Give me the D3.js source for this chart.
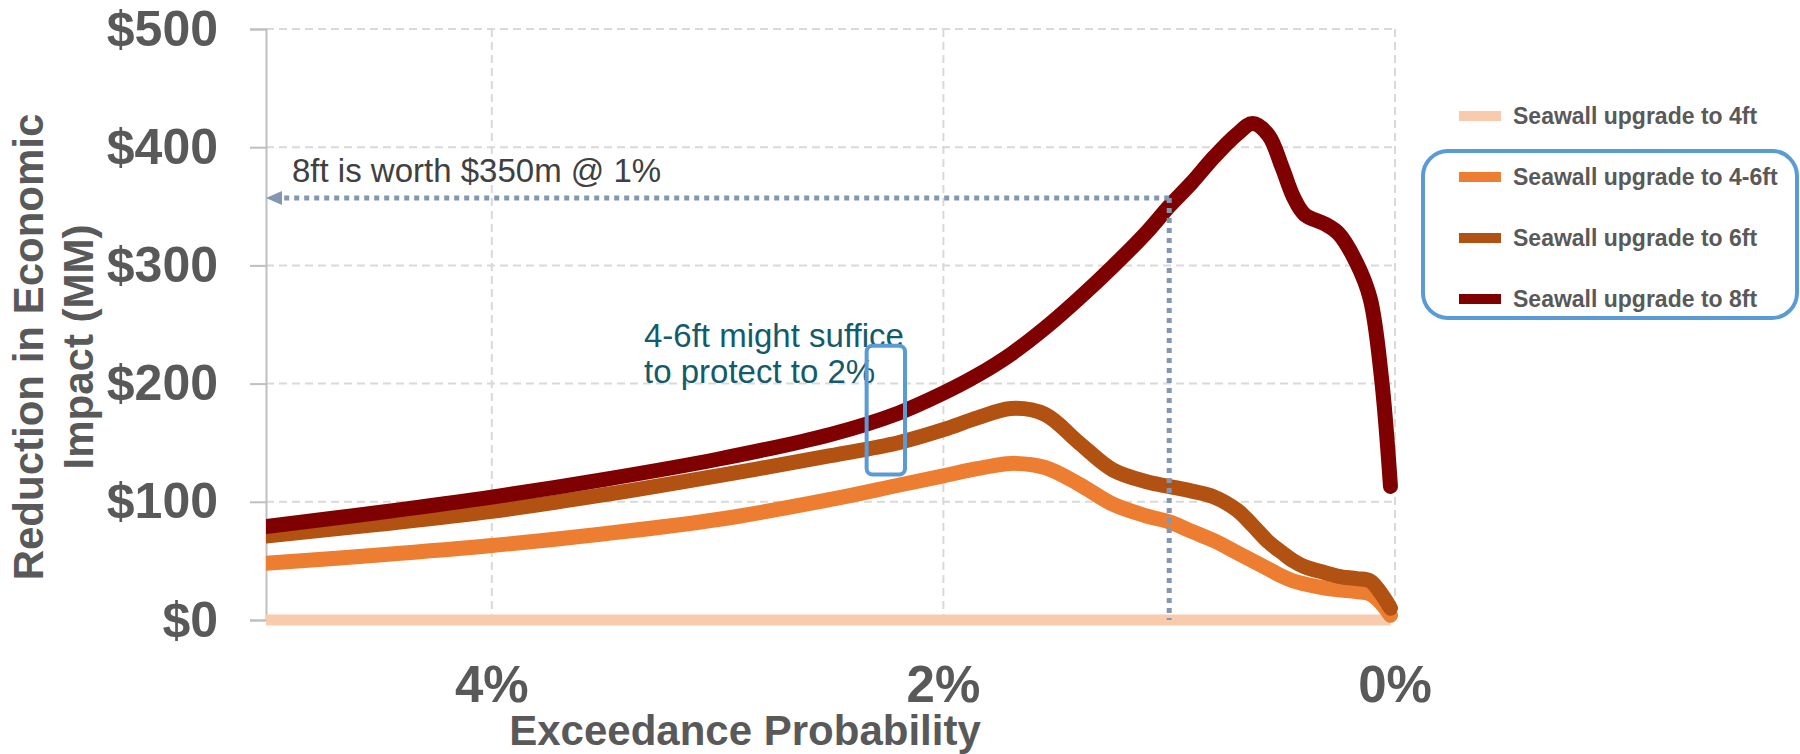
<!DOCTYPE html>
<html>
<head>
<meta charset="utf-8">
<script src="https://cdn.jsdelivr.net/npm/d3@7/dist/d3.min.js"></script>
<style>
  html, body { margin: 0; padding: 0; background: #fff; }
  svg { display: block; font-family: "Liberation Sans", Arial, sans-serif; }
</style>
</head>
<body>
<div id="chart"></div>
<script>
// exceedance probability (%), left to right
const probs = [5, 4.5, 4, 3.5, 3, 2.5, 2.2, 2, 1.85, 1.7, 1.55, 1.4, 1.25, 1.1, 1, 0.9, 0.8, 0.7, 0.63, 0.56, 0.5, 0.45, 0.4, 0.31, 0.25, 0.17, 0.11, 0.06, 0.02]

// reduction in economic impact ($MM)
const ft4 = [0, 0, 0, 0, 0, 0, 0, 0, 0, 0, 0, 0, 0, 0, 0, 0, 0, 0, 0, 0, 0, 0, 0, 0, 0, 0, 0, 0, 0]
const ft4to6 = [48, 55, 63, 73, 85, 102, 114, 122, 128, 132.5, 129, 115, 98, 88, 83, 75, 67, 57, 50, 43, 37, 33, 30.5, 27, 25.5, 24, 22, 14, 4]
const ft6 = [71, 81, 92, 106, 122, 139, 150, 161, 171, 179, 174, 150, 127, 117, 113, 109, 104, 93, 80, 66, 57, 50, 45, 40, 37, 35, 33, 22, 10]
const ft8 = [79, 91, 104, 119, 136, 157, 175, 192, 207, 225, 247, 272, 299, 328, 350, 370, 392, 411, 420, 410, 383, 358, 343, 335, 327, 302, 272, 205, 113]

const seriesNames = ['Seawall upgrade to 4ft', 'Seawall upgrade to 4-6ft', 'Seawall upgrade to 6ft', 'Seawall upgrade to 8ft']
const seriesColors = ['#f8cbad', '#ed7d31', '#b15212', '#7f0000']
const seriesValues = [ft4, ft4to6, ft6, ft8]

const xTicks = [4, 2, 0]
const yTicks = [0, 100, 200, 300, 400, 500]

// annotation values
const markProb = 1
const markValue = 357
const boxProbs = [2.34, 2.17]
const boxValues = [232, 123]

const width = 1800
const height = 754
const textGray = '#595959'

const svg = d3.select('#chart')
	.append('svg')
	.attr('width', width)
	.attr('height', height)

const x = d3.scaleLinear().domain([5, 0]).range([266, 1395])
const y = d3.scaleLinear().domain([0, 500]).range([620, 29])

// grid
svg.append('g')
	.selectAll('line')
	.data(yTicks.filter(d => d > 0))
	.join('line')
	.attr('x1', x(5))
	.attr('x2', x(0))
	.attr('y1', d => y(d))
	.attr('y2', d => y(d))
	.attr('stroke', '#d9d9d9')
	.attr('stroke-width', 2)
	.attr('stroke-dasharray', '8,5')

svg.append('g')
	.selectAll('line')
	.data(xTicks)
	.join('line')
	.attr('x1', d => x(d))
	.attr('x2', d => x(d))
	.attr('y1', y(500))
	.attr('y2', y(0))
	.attr('stroke', '#d9d9d9')
	.attr('stroke-width', 2)
	.attr('stroke-dasharray', '8,5')

// y axis
const yAxis = svg.append('g')
	.attr('transform', `translate(${x(5)},0)`)
	.call(d3.axisLeft(y).tickValues(yTicks).tickSize(16).tickPadding(32).tickFormat(d => '$' + d))
yAxis.select('.domain').attr('stroke', '#bfbfbf').attr('stroke-width', 2)
yAxis.selectAll('.tick line').attr('stroke', '#bfbfbf').attr('stroke-width', 2)
yAxis.selectAll('.tick text')
	.attr('fill', textGray)
	.attr('font-size', 50)
	.attr('font-weight', 'bold')
	.attr('font-family', '"Liberation Sans", Arial, sans-serif')

// x axis labels
svg.append('g')
	.selectAll('text')
	.data(xTicks)
	.join('text')
	.attr('x', d => x(d))
	.attr('y', 702)
	.attr('text-anchor', 'middle')
	.attr('fill', textGray)
	.attr('font-size', 51)
	.attr('font-weight', 'bold')
	.text(d => d + '%')

// axis titles
svg.append('text')
	.attr('x', 745)
	.attr('y', 745)
	.attr('text-anchor', 'middle')
	.attr('fill', textGray)
	.attr('font-size', 42)
	.attr('font-weight', 'bold')
	.text('Exceedance Probability')

const yTitle = svg.append('text')
	.attr('transform', 'translate(43,347) rotate(-90)')
	.attr('text-anchor', 'middle')
	.attr('fill', textGray)
	.attr('font-size', 42)
	.attr('font-weight', 'bold')
yTitle.append('tspan').attr('x', 0).attr('y', 0).text('Reduction in Economic')
yTitle.append('tspan').attr('x', 0).attr('dy', 50).text('Impact (MM)')

// clip so the curves start flush at the axis
svg.append('clipPath')
	.attr('id', 'plotClip')
	.append('rect')
	.attr('x', x(5))
	.attr('y', 0)
	.attr('width', width - x(5))
	.attr('height', height)

const line = d3.line()
	.x(d => x(d[0]))
	.y(d => y(d[1]))
	.curve(d3.curveCatmullRom.alpha(0.5))

svg.append('g')
	.attr('clip-path', 'url(#plotClip)')
	.selectAll('path')
	.data(seriesValues)
	.join('path')
	.attr('d', vals => line(probs.map((p, i) => [p, vals[i]])))
	.attr('fill', 'none')
	.attr('stroke', (d, i) => seriesColors[i])
	.attr('stroke-width', (d, i) => i === 0 ? 11 : 15)
	.attr('stroke-linecap', (d, i) => i === 0 ? 'butt' : 'round')
	.attr('stroke-linejoin', 'round')

// dotted marker at 1%
const dotColor = '#8497b0'
svg.append('line')
	.attr('x1', x(markProb))
	.attr('x2', x(markProb))
	.attr('y1', y(markValue))
	.attr('y2', y(0))
	.attr('stroke', dotColor)
	.attr('stroke-width', 5)
	.attr('stroke-dasharray', '5,5')
svg.append('line')
	.attr('x1', x(markProb))
	.attr('x2', x(5) + 14)
	.attr('y1', y(markValue))
	.attr('y2', y(markValue))
	.attr('stroke', dotColor)
	.attr('stroke-width', 5)
	.attr('stroke-dasharray', '5,5')
svg.append('path')
	.attr('d', `M${x(5)},${y(markValue)} L${x(5) + 16},${y(markValue) - 7} L${x(5) + 16},${y(markValue) + 7} Z`)
	.attr('fill', dotColor)

svg.append('text')
	.attr('x', 292)
	.attr('y', 182)
	.attr('fill', '#404040')
	.attr('font-size', 33)
	.text('8ft is worth $350m @ 1%')

// 4-6ft note
const note = svg.append('text')
	.attr('fill', '#135b6b')
	.attr('font-size', 33)
note.append('tspan').attr('x', 644).attr('y', 347).text('4-6ft might suffice')
note.append('tspan').attr('x', 644).attr('y', 383).text('to protect to 2%')

svg.append('rect')
	.attr('x', x(boxProbs[0]))
	.attr('y', y(boxValues[0]))
	.attr('width', x(boxProbs[1]) - x(boxProbs[0]))
	.attr('height', y(boxValues[1]) - y(boxValues[0]))
	.attr('rx', 6)
	.attr('fill', 'none')
	.attr('stroke', '#5b9bd5')
	.attr('stroke-width', 4)

// legend
const legendRows = [116, 177, 238, 299]
const legend = svg.append('g')
legend.selectAll('rect')
	.data(seriesNames)
	.join('rect')
	.attr('x', 1459)
	.attr('y', (d, i) => legendRows[i] - 5)
	.attr('width', 42)
	.attr('height', 10)
	.attr('fill', (d, i) => seriesColors[i])
legend.selectAll('text')
	.data(seriesNames)
	.join('text')
	.attr('x', 1513)
	.attr('y', (d, i) => legendRows[i])
	.attr('dy', '0.35em')
	.attr('fill', textGray)
	.attr('font-size', 23)
	.attr('font-weight', 'bold')
	.text(d => d)

svg.append('rect')
	.attr('x', 1423)
	.attr('y', 151)
	.attr('width', 374)
	.attr('height', 167)
	.attr('rx', 25)
	.attr('fill', 'none')
	.attr('stroke', '#5b9bd5')
	.attr('stroke-width', 4)
</script>
</body>
</html>
